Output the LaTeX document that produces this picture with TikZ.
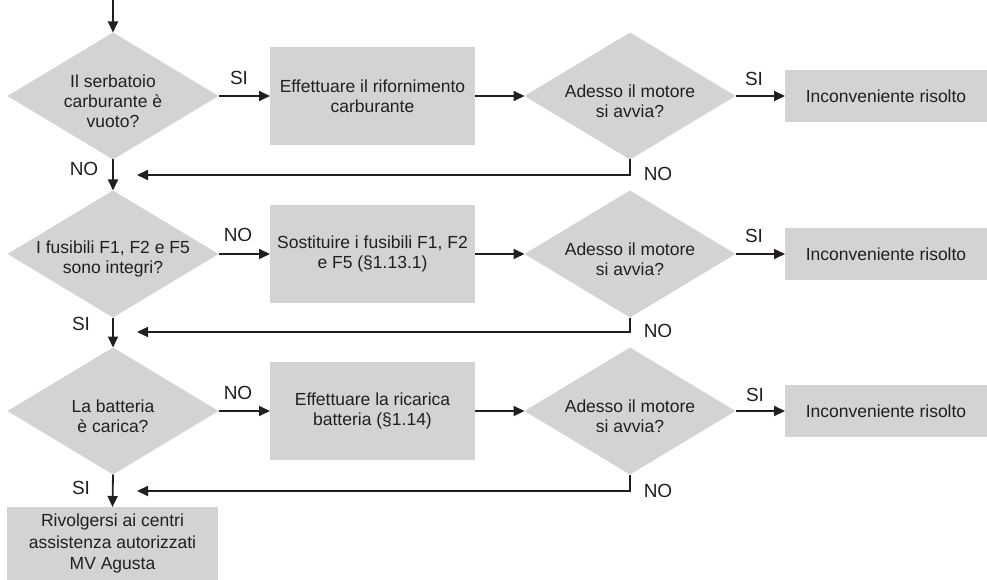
\documentclass[tikz,border=0pt]{standalone}
\usepackage{fontspec}
\setmainfont{Liberation Sans}
\usetikzlibrary{shapes.geometric,arrows.meta}
\definecolor{boxgray}{RGB}{211,211,211}
\definecolor{ink}{RGB}{35,31,32}
\begin{document}
\begin{tikzpicture}[x=1pt,y=-1pt,
 every node/.style={outer sep=0pt, inner sep=0pt, text=ink},
 txt/.style={font=\fontsize{17.5}{20}\selectfont, align=center},
 lbl/.style={font=\fontsize{19}{22}\selectfont},
 box/.style={fill=boxgray, draw=none, txt},
 dec/.style={diamond, fill=boxgray, draw=none, minimum width=211pt, minimum height=127pt},
 arr/.style={draw=ink, line width=1.8pt, -{Triangle[length=11pt,width=10pt]}}]
\useasboundingbox (0,0) rectangle (987,580);

% row 1
\node[dec, label={[txt,yshift=-5pt]center:Il serbatoio\\carburante è\\vuoto?}] (d1) at (113,96) {};
\node[box, minimum width=205pt, minimum height=98pt] (b1) at (372.5,96) {Effettuare il rifornimento\\carburante};
\node[dec, label={[txt,yshift=-5pt]center:Adesso il motore\\si avvia?}] (d2) at (630,96) {};
\node[box, minimum width=202pt, minimum height=52pt] (r1box) at (886,96) {Inconveniente risolto};

% row 2
\node[dec, label={[txt,yshift=-5pt]center:I fusibili F1, F2 e F5\\sono integri?}] (d3) at (113,254) {};
\node[box, minimum width=205pt, minimum height=98pt] (b2) at (372.5,254) {Sostituire i fusibili F1, F2\\e F5 (§1.13.1)};
\node[dec, label={[txt,yshift=-5pt]center:Adesso il motore\\si avvia?}] (d4) at (630,254) {};
\node[box, minimum width=202pt, minimum height=52pt] (r2box) at (886,254) {Inconveniente risolto};

% row 3
\node[dec, label={[txt,yshift=-5pt]center:La batteria\\è carica?}] (d5) at (113,411) {};
\node[box, minimum width=205pt, minimum height=98pt] (b3) at (372.5,411) {Effettuare la ricarica\\batteria (§1.14)};
\node[dec, label={[txt,yshift=-5pt]center:Adesso il motore\\si avvia?}] (d6) at (630,411) {};
\node[box, minimum width=202pt, minimum height=52pt] (r3box) at (886,411) {Inconveniente risolto};

% final
\node[box, minimum width=211pt, minimum height=73pt, font=\fontsize{17.5}{21.5}\selectfont] (fin) at (112.5,543.5) {Rivolgersi ai centri\\assistenza autorizzati\\MV Agusta};

% coordinates
\coordinate (start) at (113,0);
\coordinate (e1) at (137,175);
\coordinate (e2) at (137,332);
\coordinate (e3) at (137,491);

% connectors
\draw[arr] (start) -- (d1.north);
\draw[arr] (d1.east) -- (b1.west);
\draw[arr] (b1.east) -- (d2.west);
\draw[arr] (d2.east) -- (r1box.west);
\draw[arr] (d1.south) -- (d3.north);
\draw[arr] (d2.south) |- (e1);

\draw[arr] (d3.east) -- (b2.west);
\draw[arr] (b2.east) -- (d4.west);
\draw[arr] (d4.east) -- (r2box.west);
\draw[arr] (d3.south) -- (d5.north);
\draw[arr] (d4.south) |- (e2);

\draw[arr] (d5.east) -- (b3.west);
\draw[arr] (b3.east) -- (d6.west);
\draw[arr] (d6.east) -- (r3box.west);
\draw[arr] (d5.south) -- (fin.north);
\draw[arr] (d6.south) |- (e3);

% labels
\node[lbl] (l1) at (239,78) {SI};
\node[lbl] (l2) at (754,79) {SI};
\node[lbl] (l3) at (84,169) {NO};
\node[lbl] (l4) at (658,174) {NO};
\node[lbl] (l5) at (238,235) {NO};
\node[lbl] (l6) at (754,236) {SI};
\node[lbl] (l7) at (81,324) {SI};
\node[lbl] (l8) at (658,331) {NO};
\node[lbl] (l9) at (238,393) {NO};
\node[lbl] (l10) at (755,395) {SI};
\node[lbl] (l11) at (81,488) {SI};
\node[lbl] (l12) at (658,491) {NO};
\end{tikzpicture}
\end{document}
